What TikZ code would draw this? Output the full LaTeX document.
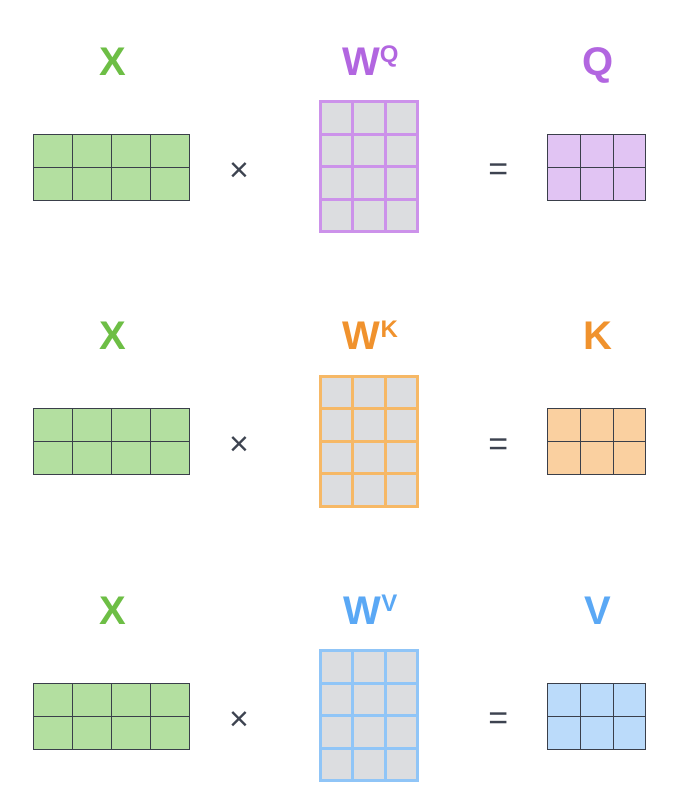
\documentclass[tikz,border=0pt]{standalone}
\usepackage{fontspec}
\setmainfont{Liberation Sans}
\definecolor{xlabel}{HTML}{6DBE45}
\definecolor{xfill}{HTML}{B3DFA0}
\definecolor{lblQ}{HTML}{B266E0}
\definecolor{fillQ}{HTML}{E1C4F3}
\definecolor{edgeQ}{HTML}{CC92EA}
\definecolor{lblK}{HTML}{F0922D}
\definecolor{fillK}{HTML}{FAD0A0}
\definecolor{edgeK}{HTML}{F6B866}
\definecolor{lblV}{HTML}{5AA8F5}
\definecolor{fillV}{HTML}{BBDBFA}
\definecolor{edgeV}{HTML}{90C5F7}
\definecolor{wgray}{HTML}{DCDDE0}
\definecolor{cellline}{HTML}{3A3F4A}
\definecolor{opgray}{HTML}{3D4350}
\begin{document}
\begin{tikzpicture}[x=1pt, y=-1pt,
title/.style={font=\fontsize{40}{40}\selectfont\bfseries, anchor=base, inner sep=0pt},
opsign/.style={font=\fontsize{34}{34}\selectfont, text=opgray, inner sep=0pt},
datacell/.style={rectangle, draw=cellline, line width=1pt, minimum height=33pt, inner sep=0pt},
weightcell/.style={rectangle, fill=wgray, line width=3pt, minimum size=32.5pt, inner sep=0pt},
]
\useasboundingbox (0,0) rectangle (686,811);

\foreach \r/\m in {0/Q,1/K,2/V}{
  \pgfmathsetmacro\dy{274.5*\r}
  %Titles
  \node[title, text=xlabel] (xlbl\m) at (112.5,75+\dy) {X};
  \node[title, text=lbl\m] (wlbl\m) at (370.4,75+\dy) {W\raisebox{12.5pt}{\fontsize{24}{24}\selectfont\m}};
  \node[title, text=lbl\m] (olbl\m) at (598,75+\dy) {\m};

  %Grids
  \foreach \i in {0,...,3}
    \foreach \j in {0,1}
      \node[datacell, minimum width=38.9pt, fill=xfill] (x\m-\i-\j) at (53+38.9*\i,150.5+33*\j+\dy) {};
  \foreach \i in {0,1,2}
    \foreach \j in {0,...,3}
      \node[weightcell, draw=edge\m] (w\m-\i-\j) at (336.25+32.5*\i,117.75+32.5*\j+\dy) {};
  \foreach \i in {0,1,2}
    \foreach \j in {0,1}
      \node[datacell, minimum width=32.8pt, fill=fill\m] (o\m-\i-\j) at (563.9+32.8*\i,150.5+33*\j+\dy) {};

  %Signs
  \node[opsign] (times\m) at (239,172+\dy) {\texttimes};
  \node[opsign] (eq\m) at (498.3,172.5+\dy) {=};
}
\end{tikzpicture}
\end{document}
